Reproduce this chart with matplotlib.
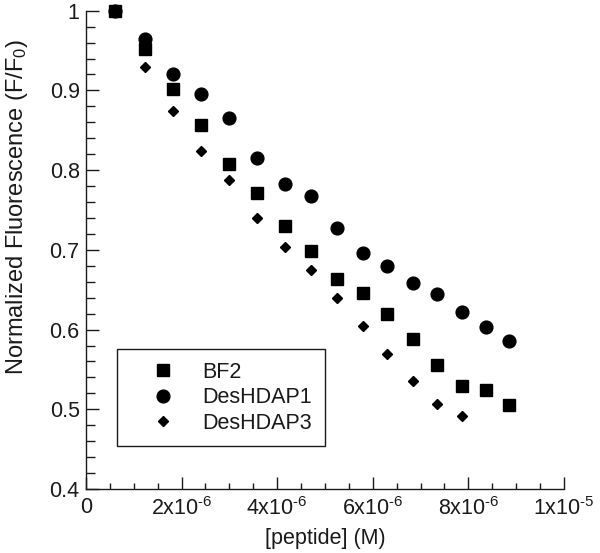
import numpy as np
import matplotlib
matplotlib.use('Agg')
import matplotlib.pyplot as plt
from matplotlib.ticker import MultipleLocator, FuncFormatter

plt.rcParams['font.family'] = ['Liberation Sans', 'DejaVu Sans']
plt.rcParams['mathtext.fontset'] = 'custom'
plt.rcParams['mathtext.rm'] = 'Liberation Sans'
plt.rcParams['mathtext.it'] = 'Liberation Sans:italic'
plt.rcParams['mathtext.bf'] = 'Liberation Sans:bold'

# peptide concentration (M), shared by all three series
conc = np.array([0.61, 1.23, 1.83, 2.41, 3.00, 3.58, 4.16, 4.70,
                 5.25, 5.79, 6.30, 6.85, 7.34, 7.86, 8.36, 8.85]) * 1e-6

bf2 = [1.0, 0.952, 0.902, 0.857, 0.808, 0.771, 0.730, 0.698,
       0.663, 0.646, 0.619, 0.588, 0.556, 0.529, 0.524, 0.505]
deshdap1 = [1.0, 0.964, 0.920, 0.896, 0.865, 0.815, 0.782, 0.768,
            0.727, 0.696, 0.680, 0.659, 0.645, 0.622, 0.603, 0.586]
deshdap3 = [1.0, 0.929, 0.874, 0.824, 0.788, 0.740, 0.703, 0.675,
            0.639, 0.604, 0.569, 0.535, 0.507, 0.491]

ink = '#1a1a1a'
fs = 15.5

fig = plt.figure(figsize=(6, 5.53), dpi=100)
ax = fig.add_axes([0.1433, 0.1157, 0.7967, 0.865])

ax.plot(conc[:len(deshdap1)], deshdap1, 'o', color='black', ms=9.2,
        label='DesHDAP1', zorder=3, clip_on=False)
ax.plot(conc[:len(deshdap3)], deshdap3, 'D', color='black', ms=5.4,
        label='DesHDAP3', zorder=3, clip_on=False)
ax.plot(conc, bf2, 's', color='black', ms=8.8, label='BF2', zorder=4, clip_on=False)

ax.set_xlim(0, 1e-5)
ax.set_ylim(0.4, 1.0)

for side in ['top', 'right']:
    ax.spines[side].set_visible(False)
for side in ['left', 'bottom']:
    ax.spines[side].set_color(ink)
    ax.spines[side].set_linewidth(1.0)

ax.xaxis.set_major_locator(MultipleLocator(2e-6))
ax.xaxis.set_minor_locator(MultipleLocator(5e-7))
ax.yaxis.set_major_locator(MultipleLocator(0.1))
ax.yaxis.set_minor_locator(MultipleLocator(0.02))


def xfmt(v, pos):
    if v <= 1e-12:
        return '0' if abs(v) <= 1e-12 else ''
    e = int(np.floor(np.log10(v) + 1e-9))
    m = int(round(v / 10 ** e))
    return r'$\mathrm{%dx10}^{\text{-%d}}$' % (m, -e)


def yfmt(v, pos):
    if abs(v - 1) < 1e-9:
        return '1'
    return '%.1f' % v


ax.xaxis.set_major_formatter(FuncFormatter(xfmt))
ax.yaxis.set_major_formatter(FuncFormatter(yfmt))

ax.tick_params(which='both', direction='in', color=ink, width=1.0,
               labelsize=fs, labelcolor=ink)
ax.tick_params(axis='x', which='major', length=8.6, pad=6)
ax.tick_params(axis='x', which='minor', length=4.3)
ax.tick_params(axis='y', which='major', length=9.4, pad=4.5)
ax.tick_params(axis='y', which='minor', length=6.5)

ax.set_xlabel('[peptide] (M)', fontsize=fs, color=ink)
ax.set_ylabel(r'Normalized Fluorescence (F/F$_{\mathrm{0}}$)', fontsize=17, color=ink)
ax.yaxis.set_label_coords(-0.117, 0.59)
ax.xaxis.set_label_coords(0.5, -0.082)

handles, labels = ax.get_legend_handles_labels()
order = [2, 0, 1]
leg = ax.legend([handles[i] for i in order], [labels[i] for i in order],
                loc='upper left', bbox_to_anchor=(0.064, 0.2927),
                borderaxespad=0, fontsize=fs, frameon=True, fancybox=False,
                edgecolor=ink, framealpha=1, borderpad=0.6,
                handlelength=3.1, handletextpad=0.3, labelspacing=0.2)
leg.get_frame().set_linewidth(1.0)
for t in leg.get_texts():
    t.set_color(ink)

fig.savefig('out.png', dpi=100)
